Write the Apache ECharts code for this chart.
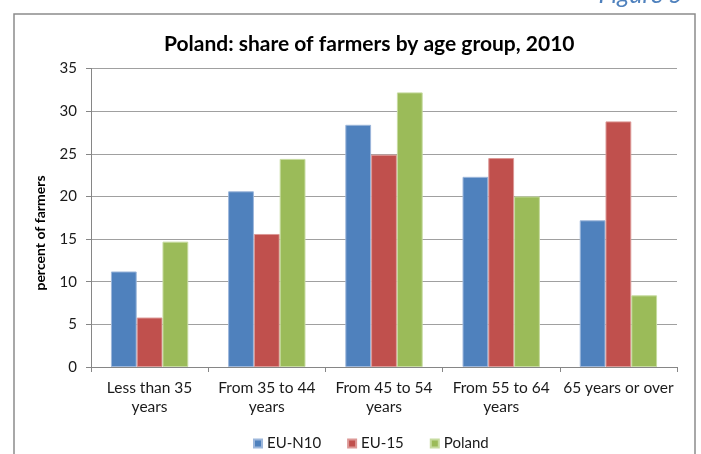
<!DOCTYPE html>
<html>
<head>
<meta charset="utf-8">
<script src="https://cdn.jsdelivr.net/npm/echarts@6/dist/echarts.min.js"></script>
<style>
  html, body { margin: 0; padding: 0; background: #fff; }
  #chart { width: 701px; height: 454px; }
</style>
</head>
<body>
<div id="chart"></div>
<script>
    // age groups on the x axis
    const categories = ['Less than 35\nyears', 'From 35 to 44\nyears', 'From 45 to 54\nyears', 'From 55 to 64\nyears', '65 years or over'];
    const seriesNames = ['EU-N10', 'EU-15', 'Poland'];
    const euN10 = [11.2, 20.6, 28.4, 22.3, 17.2];
    const eu15 = [5.8, 15.6, 24.9, 24.5, 28.8];
    const poland = [14.7, 24.4, 32.2, 20.0, 8.4];
    const colors = ['#4f81bd', '#c0504d', '#9bbb59'];
    const borders = ['#9db7db', '#dc9896', '#c6db9f'];

    const font = 'Lato, "Noto Sans", sans-serif';
    let chart = echarts.init(document.getElementById('chart'));

    let values = [euN10, eu15, poland];
    let series = [];
    for (let i = 0; i < seriesNames.length; ++i) {
        series.push({
            name: seriesNames[i],
            type: 'bar',
            data: values[i],
            barGap: '0%',
            barCategoryGap: '34%',
            itemStyle: {color: colors[i], borderColor: borders[i], borderWidth: 1}
        });
    }

    let options = {
        animation: false,
        textStyle: {fontFamily: font},
        title: {
            text: 'Poland: share of farmers by age group, 2010',
            left: 159,
            top: 29,
            textStyle: {fontSize: 21, fontWeight: 'bold', color: '#000', fontFamily: font}
        },
        graphic: [
            {
                type: 'rect',
                shape: {x: 14, y: 14, width: 681, height: 460},
                style: {fill: 'none', stroke: '#8c8c8c', lineWidth: 1.5},
                silent: true
            },
            {
                type: 'text',
                right: 18,
                top: -18,
                style: {text: 'Figure 5', fill: '#4f81bd', font: 'italic 25px ' + font}
            },
            {
                // y axis title sits a little below the middle of the axis
                type: 'text',
                x: 40,
                y: 233,
                rotation: Math.PI / 2,
                style: {
                    text: 'percent of farmers',
                    fill: '#000',
                    font: 'bold 14px ' + font,
                    align: 'center',
                    verticalAlign: 'middle'
                }
            }
        ],
        legend: {
            data: seriesNames,
            top: 431,
            left: 248,
            itemWidth: 8,
            itemHeight: 8,
            itemGap: 26,
            icon: 'rect',
            textStyle: {fontSize: 15, color: '#1a1a1a', fontFamily: font}
        },
        grid: {left: 91, right: 24, top: 68.5, bottom: 87},
        xAxis: {
            type: 'category',
            data: categories,
            axisLine: {lineStyle: {color: '#868686'}},
            axisTick: {show: true, length: 5, lineStyle: {color: '#868686'}},
            axisLabel: {fontSize: 15.5, color: '#1a1a1a', lineHeight: 19, margin: 11, interval: 0}
        },
        yAxis: {
            type: 'value',
            min: 0,
            max: 35,
            interval: 5,
            axisLine: {show: true, lineStyle: {color: '#868686'}},
            axisTick: {show: true, length: 5, lineStyle: {color: '#868686'}},
            axisLabel: {fontSize: 15, color: '#1a1a1a', margin: 14},
            splitLine: {lineStyle: {color: '#a0a0a0'}}
        },
        series: series
    };
    chart.setOption(options);
</script>
</body>
</html>
